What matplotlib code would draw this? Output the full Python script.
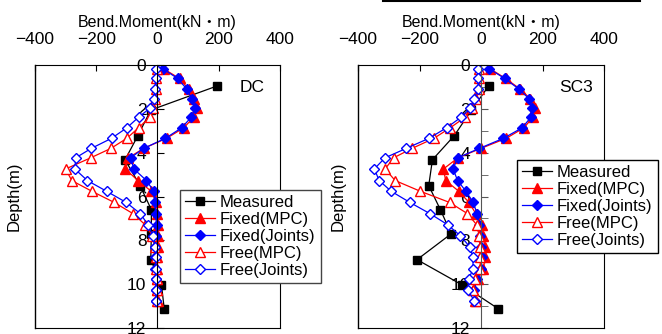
import numpy as np
import matplotlib
matplotlib.use("Agg")
import matplotlib.pyplot as plt
from matplotlib.ticker import MultipleLocator
from matplotlib.lines import Line2D

plt.rcParams['font.family'] = ['Liberation Sans', 'Noto Sans CJK JP']

# depths (m) of the numerical nodes and of the gauges
depth_sim = [0.17, 0.61, 1.10, 1.53, 1.97, 2.38, 2.86, 3.34, 3.80, 4.23, 4.74, 5.27,
             5.76, 6.27, 6.78, 7.29, 7.78, 8.30, 8.78, 9.30, 9.77, 10.28, 10.76]
depth_meas = [0.95, 2.05, 3.22, 4.32, 5.50, 6.60, 7.70, 8.88, 10.03, 11.12]

# DC case, bending moment (kN.m)
dc_measured = [195, -22, -64, -106, -57, -20, -20, -22, 13, 22]
dc_fixed_mpc = [20, 72, 102, 120, 130, 118, 86, 30, -45, -95, -105, -64, -20,
                -4, 0, 2, 3, 2, 0, -1, -1, 0, 1]
dc_fixed_joints = [18, 66, 96, 112, 123, 110, 79, 26, -45, -88, -77, -36, -12,
                   -9, -6, -3, -5, -7, -8, -7, -6, -5, -4]
dc_free_mpc = [-3, -4, -6, -9, -15, -25, -62, -100, -152, -218, -300, -280, -214,
               -141, -80, -40, -17, -8, -5, -4, -3, -3, -3]
dc_free_joints = [-5, -6, -8, -13, -25, -62, -100, -150, -216, -267, -270, -229, -166,
                  -102, -56, -31, -15, -8, -6, -6, -5, -5, -4]

# SC3 case
sc3_measured = [25, -31, -87, -158, -170, -132, -97, -208, -62, 56]
sc3_fixed_mpc = [30, 80, 128, 160, 175, 168, 140, 82, 0, -75, -122, -115, -72,
                 -39, -17, 2, 8, 12, 13, 8, -10, -25, -18]
sc3_fixed_joints = [27, 77, 124, 156, 166, 162, 134, 73, -5, -76, -91, -76, -49,
                    -25, -13, -6, -2, 0, 2, 0, -13, -24, -20]
sc3_free_mpc = [-5, -6, -8, -15, -28, -52, -100, -153, -224, -284, -312, -279, -197,
                -102, -44, -14, -6, -3, -2, -3, -20, -25, -17]
sc3_free_joints = [-9, -9, -10, -22, -35, -65, -112, -169, -243, -312, -347, -331, -292,
                   -231, -166, -108, -68, -36, -26, -26, -40, -42, -22]

x_ticks = [-400, -200, 0, 200, 400]
y_ticks = [0, 2, 4, 6, 8, 10, 12]
legend_names = ['Measured', 'Fixed(MPC)', 'Fixed(Joints)', 'Free(MPC)', 'Free(Joints)']


def draw_panel(ax, meas, fmpc, fjoint, frmpc, frjoint, name, minor, spine_col, ylab_x):
    lw = 0.9
    ax.plot(meas, depth_meas, '-s', color='black', lw=lw, ms=6, label=legend_names[0])
    ax.plot(fmpc, depth_sim, '-^', color='red', lw=lw, ms=7, label=legend_names[1])
    ax.plot(fjoint, depth_sim, '-D', color='blue', lw=lw, ms=5.5, label=legend_names[2])
    ax.plot(frmpc, depth_sim, '-^', color='red', mfc='white', lw=lw, ms=7, label=legend_names[3])
    ax.plot(frjoint, depth_sim, '-D', color='blue', mfc='white', lw=lw, ms=5.5, label=legend_names[4])

    ax.set_xlim(-400, 400)
    ax.set_ylim(12, 0)
    ax.set_xticks(x_ticks)
    ax.set_yticks(y_ticks)
    if minor:
        ax.yaxis.set_minor_locator(MultipleLocator(1))

    ax.xaxis.tick_top()
    ax.xaxis.set_label_position('top')
    ax.set_xlabel('Bend.Moment(kN・m)', fontsize=11.5, labelpad=4)
    ax.tick_params(axis='x', direction='in', length=4, pad=13, labelsize=12.5)

    # depth axis sits on the zero-moment line
    ax.spines['left'].set_position(('data', 0))
    ax.spines['left'].set_color(spine_col)
    ax.tick_params(axis='y', which='both', direction='in', length=5, pad=8,
                   labelsize=12.5, color=spine_col)
    ax.plot([0, 0], [0, 1], transform=ax.transAxes, color='black', lw=1, clip_on=False)

    ax.set_ylabel('Depth(m)', fontsize=12)
    ax.yaxis.set_label_coords(ylab_x, 0.5)

    ax.text(310, 1.0, name, fontsize=12.5, ha='center', va='center')


fig = plt.figure(figsize=(6.62, 3.34), dpi=100)
ax1 = fig.add_axes([0.0529, 0.018, 0.370, 0.787])
ax2 = fig.add_axes([0.5408, 0.018, 0.3716, 0.787])

draw_panel(ax1, dc_measured, dc_fixed_mpc, dc_fixed_joints, dc_free_mpc, dc_free_joints,
           'DC', False, 'black', -0.055)
draw_panel(ax2, sc3_measured, sc3_fixed_mpc, sc3_fixed_joints, sc3_free_mpc, sc3_free_joints,
           'SC3', True, '#555555', -0.05)

leg_kw = dict(loc='upper left', bbox_transform=fig.transFigure, borderaxespad=0,
              fontsize=12, handlelength=1.8, handletextpad=0.3, labelspacing=0.12,
              borderpad=0.3, fancybox=False, framealpha=1)
leg1 = ax1.legend(bbox_to_anchor=(0.272, 0.431), **leg_kw)
leg1.get_frame().set_edgecolor('#444444')
leg2 = ax2.legend(bbox_to_anchor=(0.781, 0.521), **leg_kw)
leg2.get_frame().set_edgecolor('black')

# stray rule at the top of the right figure
fig.add_artist(Line2D([0.5786, 0.967], [0.996, 0.996], color='black', lw=1.5))

fig.savefig('out.png', dpi=100)
